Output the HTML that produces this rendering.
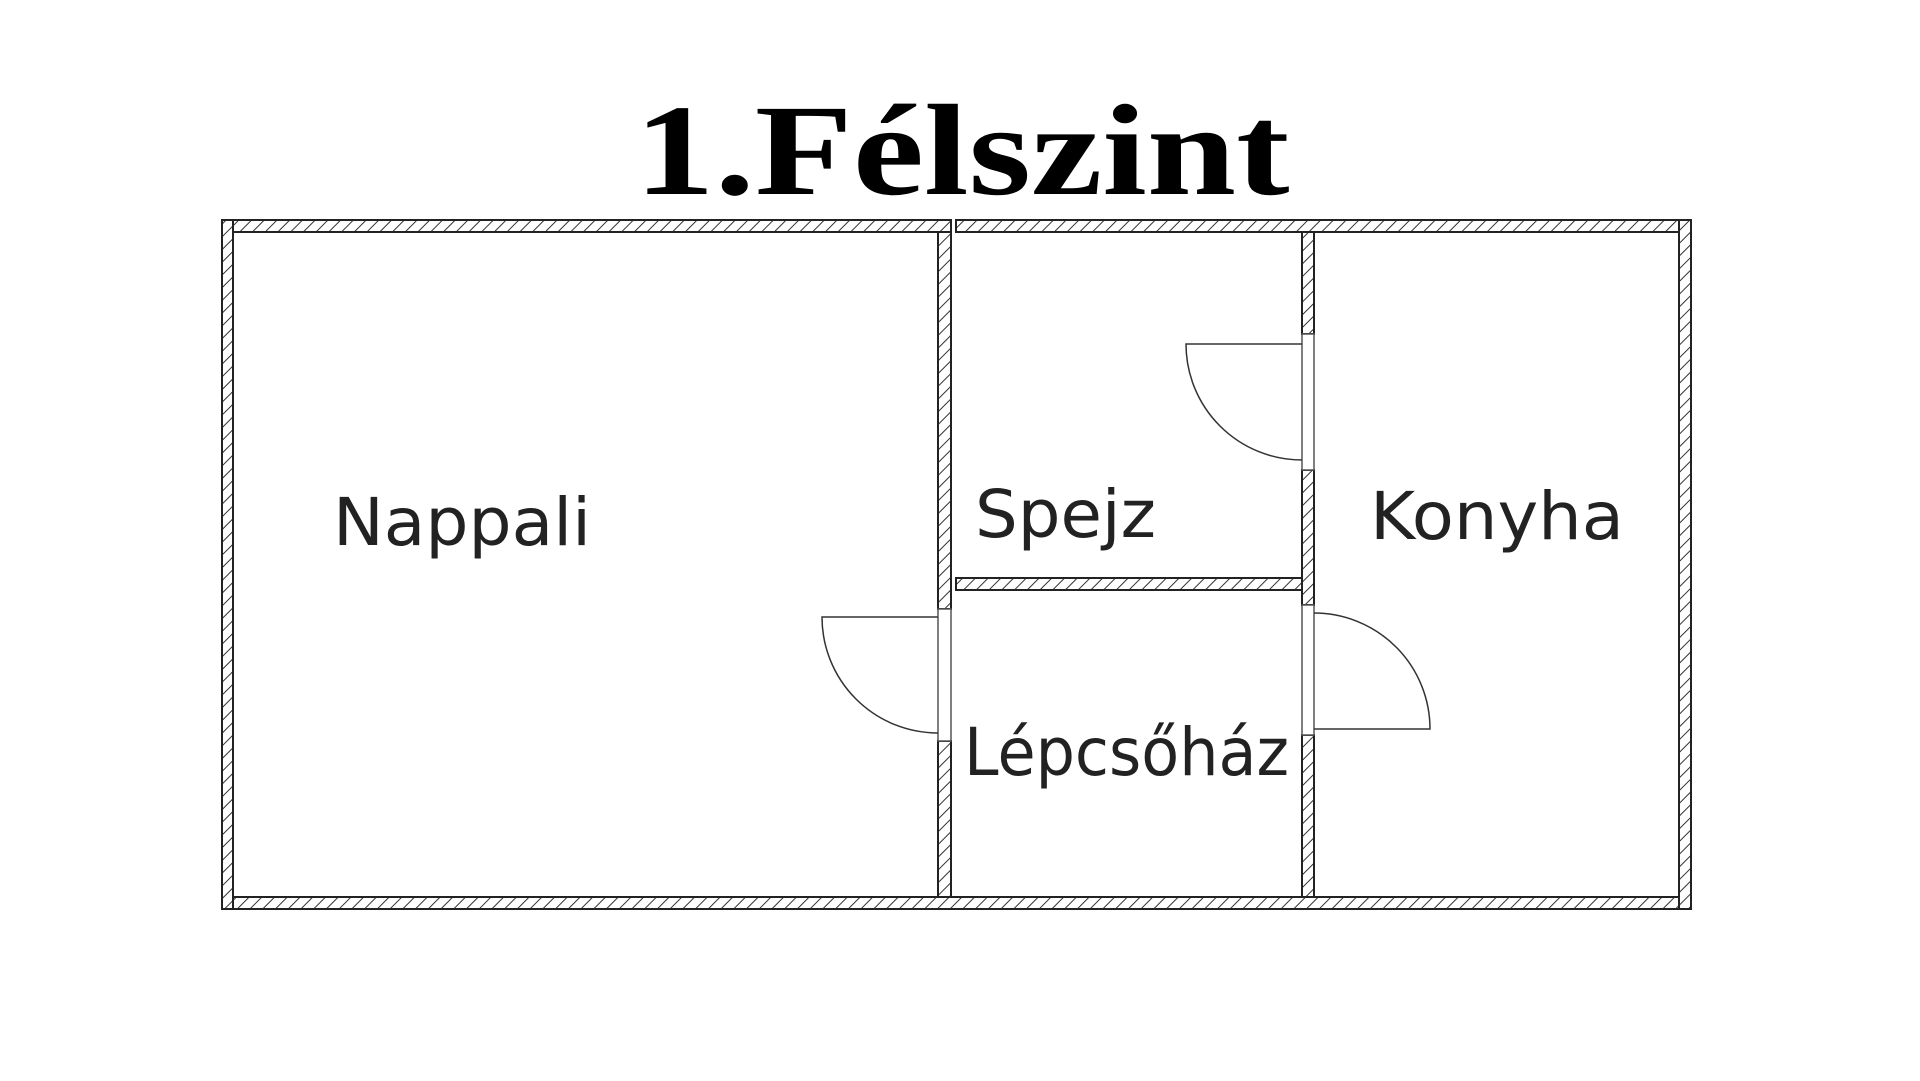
<!DOCTYPE html>
<html><head><meta charset="utf-8"><style>
html,body{margin:0;padding:0;background:#fff;}
svg{display:block}
</style></head><body>
<svg width="1920" height="1081" viewBox="0 0 1920 1081" xmlns="http://www.w3.org/2000/svg">
<defs>
<pattern id="h" patternUnits="userSpaceOnUse" width="9" height="9" patternTransform="rotate(45)">
<rect width="9" height="9" fill="#fff"/>
<line x1="0" y1="0" x2="0" y2="9" stroke="#333" stroke-width="2"/>
</pattern>
</defs>
<rect width="1920" height="1081" fill="#fff"/>
<text x="962" y="194" text-anchor="middle" font-family="Liberation Serif, serif" font-weight="bold" font-size="130" textLength="655" lengthAdjust="spacingAndGlyphs">1.Félszint</text>
<g fill="url(#h)" stroke="#222" stroke-width="2">
<rect x="222" y="220" width="729" height="12"/>
<rect x="956" y="220" width="735" height="12"/>
<rect x="222" y="897" width="1469" height="12"/>
<rect x="222" y="220" width="11" height="689"/>
<rect x="1679" y="220" width="12" height="689"/>
<rect x="938" y="232" width="13" height="377"/>
<rect x="938" y="741" width="13" height="156"/>
<rect x="1302" y="232" width="12" height="102"/>
<rect x="1302" y="470" width="12" height="135"/>
<rect x="1302" y="735" width="12" height="162"/>
<rect x="956" y="578" width="346" height="12"/>
</g>
<g fill="#fff" stroke="#555" stroke-width="1.5">
<rect x="938" y="609" width="13" height="132"/>
<rect x="1302" y="334" width="12" height="136"/>
<rect x="1302" y="605" width="12" height="130"/>
</g>
<g fill="none" stroke="#333" stroke-width="1.5">
<path d="M1302 344 H1186 A116 116 0 0 0 1302 460"/>
<path d="M938 617 H822 A116 116 0 0 0 938 733"/>
<path d="M1314 729 H1430 A116 116 0 0 0 1314 613"/>
</g>
<g font-family="DejaVu Sans, sans-serif" font-size="66" fill="#222">
<text x="333" y="545" textLength="258" lengthAdjust="spacingAndGlyphs">Nappali</text>
<text x="975" y="537" textLength="181" lengthAdjust="spacingAndGlyphs">Spejz</text>
<text x="1370" y="539" textLength="254" lengthAdjust="spacingAndGlyphs">Konyha</text>
<text x="964" y="775" textLength="325" lengthAdjust="spacingAndGlyphs">Lépcsőház</text>
</g>
</svg>
</body></html>
